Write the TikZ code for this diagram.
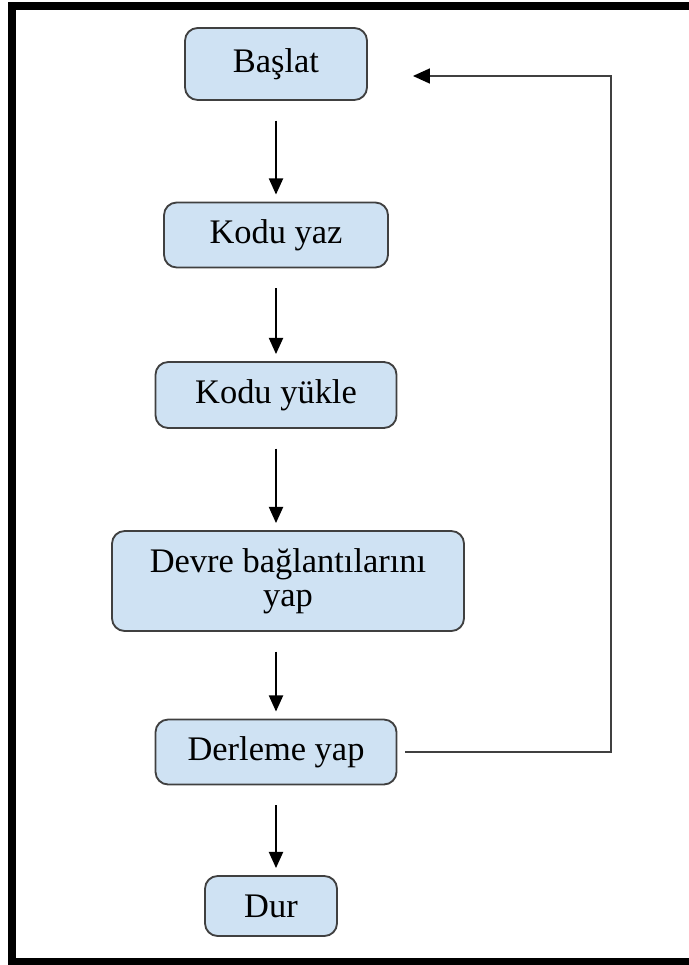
\documentclass[tikz,border=0pt]{standalone}
\usepackage{fontspec}
\setmainfont{Liberation Serif}
\usetikzlibrary{arrows.meta}

\definecolor{kutumavi}{HTML}{CFE2F3}
\tikzset{
  kutu/.style={draw=black!75, line width=1.3pt, fill=kutumavi, rounded corners=9pt,
    align=center, font=\fontsize{24.5}{24}\selectfont, inner sep=2pt},
  akis/.style={line width=1.4pt, -{Triangle[length=11.5pt,width=10pt]}, shorten <=14pt, shorten >=5pt},
  geri/.style={line width=1.4pt, black!75, -{Triangle[length=12pt,width=10.5pt,black]}}
}

\begin{document}
\begin{tikzpicture}[x=0.25mm, y=-0.25mm]

\useasboundingbox (0,0) rectangle (688,965);
 \draw [line width=5pt] (12,6) rectangle (720,962);

 % kutular
 \node[kutu, minimum width=45.5mm, minimum height=18mm] (baslat) at (276,64) {Başlat};
 \node[kutu, minimum width=56mm, minimum height=16.25mm] (yaz) at (276,235) {Kodu yaz};
 \node[kutu, minimum width=60.25mm, minimum height=16.5mm] (yukle) at (276,395) {Kodu yükle};
 \node[kutu, minimum width=88mm, minimum height=25mm] (devre) at (288,581) {Devre bağlantılarını\\yap};
 \node[kutu, minimum width=60.25mm, minimum height=16.25mm] (derle) at (276,752) {Derleme yap};
 \node[kutu, minimum width=33mm, minimum height=15mm] (dur) at (271,906) {Dur};

 % oklar
 \draw[akis] (baslat) -- (yaz);
 \draw[akis] (yaz) -- (yukle);
 \draw[akis] (yukle.south) -- (yukle.south |- devre.north);
 \draw[akis] (devre.south -| derle) -- (derle);
 \draw[akis] (derle.south) -- (derle.south |- dur.north);

 % geri donus
 \coordinate (donus) at (611,76);
 \draw[geri, shorten >=11.25mm] (derle.east) ++(2mm,0) -| (donus) -- (baslat.east |- donus);

\end{tikzpicture}
\end{document}
